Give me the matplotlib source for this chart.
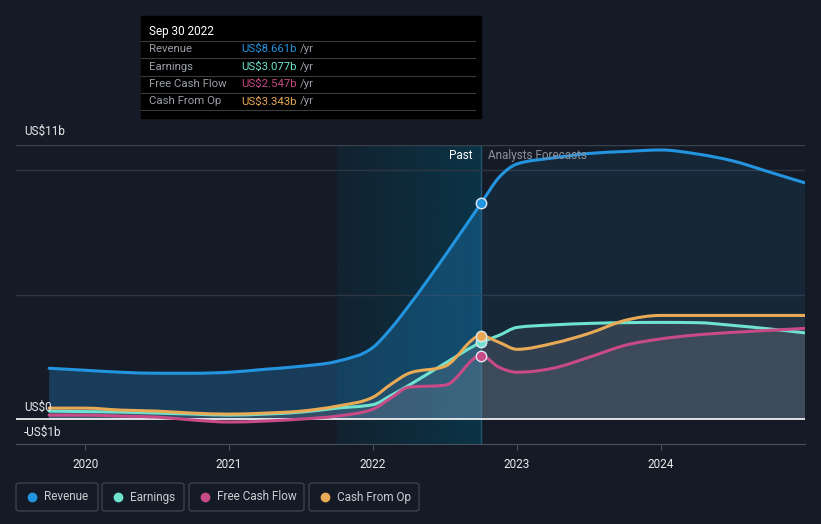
import numpy as np
import matplotlib
matplotlib.use('Agg')
import matplotlib.pyplot as plt
from matplotlib.patches import Rectangle, FancyBboxPatch, PathPatch
from matplotlib.lines import Line2D
from matplotlib.path import Path

plt.rcParams['font.family'] = ['Roboto', 'DejaVu Sans']

# --- data (US$ billions) ---
past_t = [2019.75, 2020.0, 2020.25, 2020.5, 2020.75, 2021.0, 2021.25, 2021.5,
          2021.75, 2022.0, 2022.125, 2022.25, 2022.5, 2022.75]
revenue_past = [2.04, 1.96, 1.88, 1.84, 1.84, 1.88, 2.0, 2.12, 2.32, 2.88, 3.64, 4.56, 6.56, 8.661]
earnings_past = [0.32, 0.30, 0.28, 0.24, 0.20, 0.16, 0.20, 0.28, 0.44, 0.58, 0.95, 1.36, 2.24, 3.077]
fcf_past = [0.16, 0.16, 0.12, 0.08, -0.04, -0.12, -0.08, 0.0, 0.12, 0.40, 0.85, 1.28, 1.36, 2.547]
cfo_past = [0.44, 0.44, 0.36, 0.32, 0.24, 0.20, 0.24, 0.32, 0.52, 0.88, 1.40, 1.84, 2.12, 3.343]

fc_t = [2022.75, 2022.875, 2023.0, 2023.25, 2023.5, 2023.75, 2024.0, 2024.25,
        2024.5, 2024.75, 2025.0]
revenue_fc = [8.661, 9.70, 10.24, 10.48, 10.66, 10.74, 10.80, 10.64, 10.36, 9.92, 9.48]
earnings_fc = [3.077, 3.36, 3.68, 3.78, 3.84, 3.87, 3.88, 3.87, 3.76, 3.62, 3.46]
fcf_fc = [2.547, 2.08, 1.88, 2.04, 2.48, 2.96, 3.22, 3.38, 3.48, 3.56, 3.64]
cfo_fc = [3.343, 3.08, 2.80, 3.04, 3.44, 3.96, 4.16, 4.16, 4.16, 4.16, 4.16]

names = ['Revenue', 'Earnings', 'Free Cash Flow', 'Cash From Op']
tip_values = ['US$8.661b', 'US$3.077b', 'US$2.547b', 'US$3.343b']
colors = ['#2394df', '#6fe3cf', '#c84a86', '#e9aa55']
year_ticks = [2020, 2021, 2022, 2023, 2024]

W, H = 821, 524
BG = '#151b26'


def monotone_path(x, y, close_to=None):
    """Smooth monotone-x cubic bezier path through the points (like d3 curveMonotoneX)."""
    x = np.asarray(x, float)
    y = np.asarray(y, float)
    n = len(x)
    h = np.diff(x)
    s = np.diff(y) / h
    m = np.zeros(n)
    for i in range(1, n - 1):
        if s[i - 1] * s[i] <= 0:
            m[i] = 0
        else:
            p = (s[i - 1] * h[i] + s[i] * h[i - 1]) / (h[i - 1] + h[i])
            m[i] = np.sign(s[i - 1]) * min(abs(s[i - 1]), abs(s[i]), 0.5 * abs(p)) * 2
    m[0] = (3 * s[0] - m[1]) / 2 if n > 2 else s[0]
    m[-1] = (3 * s[-1] - m[-2]) / 2 if n > 2 else s[-1]
    verts = [(x[0], y[0])]
    codes = [Path.MOVETO]
    for i in range(n - 1):
        d = h[i] / 3
        verts += [(x[i] + d, y[i] + m[i] * d), (x[i + 1] - d, y[i + 1] - m[i + 1] * d),
                  (x[i + 1], y[i + 1])]
        codes += [Path.CURVE4] * 3
    if close_to is not None:
        verts += [(x[-1], close_to), (x[0], close_to), (x[0], y[0])]
        codes += [Path.LINETO, Path.LINETO, Path.CLOSEPOLY]
    return Path(verts, codes)


t = np.array(past_t + fc_t[1:])
series = [
    np.array(revenue_past + revenue_fc[1:]),
    np.array(earnings_past + earnings_fc[1:]),
    np.array(fcf_past + fcf_fc[1:]),
    np.array(cfo_past + cfo_fc[1:]),
]
npast = len(past_t)

fig = plt.figure(figsize=(W / 100, H / 100), dpi=100)
fig.patch.set_facecolor(BG)
ax = fig.add_axes([16 / W, 1 - 444 / H, (805 - 16) / W, (444 - 145) / H])
ax.set_facecolor(BG)
ax.set_xlim(2019.52, 2025.0)
ax.set_ylim(-1, 11)

# past band with gradient
grad = np.linspace(0, 1, 256)[None, :]
rgba = np.zeros((1, 256, 4))
rgba[..., 0] = 10 / 255
rgba[..., 1] = 55 / 255
rgba[..., 2] = 75 / 255
rgba[..., 3] = 0.25 + 0.65 * grad
ax.imshow(rgba, extent=[2021.75, 2022.75, -1, 11], aspect='auto', zorder=0.5)
ax.axvline(2022.75, color='#23566e', lw=1, zorder=1)

# gridlines
for g in [5, 10]:
    ax.axhline(g, color='#2e3642', lw=1, zorder=1)
ax.axhline(11, color='#3a414c', lw=1, zorder=1)
ax.axhline(0, color='white', lw=1.2, zorder=4)

# fills
ax.add_patch(PathPatch(monotone_path(t, series[0], 0), fc=colors[0], alpha=0.10,
                       lw=0, zorder=2))
ax.add_patch(PathPatch(monotone_path(t[:npast], series[0][:npast], 0), fc=colors[0],
                       alpha=0.2, lw=0, zorder=2))
for s in series[1:]:
    ax.add_patch(PathPatch(monotone_path(t, s, 0), fc='#8d939e', alpha=0.13,
                           lw=0, zorder=2))

for s, c in zip(series, colors):
    ax.add_patch(PathPatch(monotone_path(t, s), fc='none', ec=c, lw=2.2, zorder=5,
                           capstyle='round'))
    ax.plot([2022.75], [s[npast - 1]], 'o', ms=7.5, color=c,
            mec='#dfe6ee', mew=1, zorder=6)

for sp in ax.spines.values():
    sp.set_visible(False)
ax.spines['bottom'].set_visible(True)
ax.spines['bottom'].set_color('#4a505a')
ax.set_yticks([])
ax.set_xticks(year_ticks)
ax.set_xticklabels([str(y) for y in year_ticks])
ax.tick_params(axis='x', colors='#4a505a', length=4, labelcolor='#e8eaed',
               labelsize=8.5, pad=6)

# y labels
fig.text(24 / W, 1 - 131 / H, 'US$11b', color='#e8eaed', fontsize=8.5, va='center')
fig.text(24 / W, 1 - 407 / H, 'US$0', color='#e8eaed', fontsize=8.5, va='center')
fig.text(24 / W, 1 - 432 / H, '-US$1b', color='#e8eaed', fontsize=8.5, va='center')

fig.text(472 / W, 1 - 156 / H, 'Past', color='white', fontsize=8.5, ha='right', va='center')
fig.text(488 / W, 1 - 156 / H, 'Analysts Forecasts', color='#8b9099', fontsize=8.5, va='center')

# tooltip
fig.add_artist(Rectangle((141 / W, 1 - 118 / H), 340 / W, 102 / H,
                         transform=fig.transFigure, color='black', zorder=10))
fig.text(149 / W, 1 - 31 / H, 'Sep 30 2022', color='white', fontsize=8.5,
         va='center', zorder=11)
for i, (n, v, c) in enumerate(zip(names, tip_values, colors)):
    y = 49 + i * 17.5
    fig.add_artist(Line2D([141 / W, 475 / W], [1 - (y - 8.5) / H] * 2,
                          transform=fig.transFigure, color='#3a3a3a', lw=0.8, zorder=11))
    fig.text(149 / W, 1 - y / H, n, color='#9a9ea6', fontsize=8.2, va='center', zorder=11)
    fig.text(241 / W, 1 - y / H, v, color=c, fontsize=8.2, va='center', zorder=11)
    fig.text(300 / W, 1 - y / H, '/yr', color='#9a9ea6', fontsize=8.2, va='center', zorder=11)
fig.add_artist(Line2D([141 / W, 475 / W], [1 - 110 / H] * 2,
                      transform=fig.transFigure, color='#3a3a3a', lw=0.8, zorder=11))

# legend
boxes = [(16, 98), (102, 184), (189, 304), (309, 419)]
for (x0, x1), n, c in zip(boxes, names, colors):
    fig.add_artist(FancyBboxPatch((x0 / W, 1 - 511 / H), (x1 - x0) / W, 28 / H,
                                  boxstyle='round,pad=0,rounding_size=0.004',
                                  transform=fig.transFigure, fc='none',
                                  ec='#3b414c', lw=1))
    fig.add_artist(Line2D([(x0 + 16) / W], [1 - 497 / H], marker='o', ms=6,
                          color=c, transform=fig.transFigure))
    fig.text((x0 + 28) / W, 1 - 497 / H, n, color='#c9ccd1', fontsize=8.5, va='center')

fig.savefig('out.png', dpi=100, facecolor=BG)
